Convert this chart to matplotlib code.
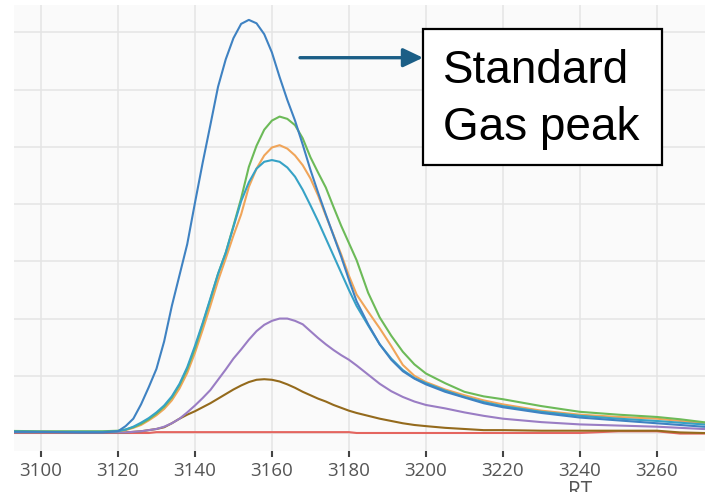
"""Chromatogram overlay: standard gas peak at RT ~3155."""

import matplotlib

matplotlib.use("Agg")
import matplotlib.pyplot as plt
from matplotlib.patches import Rectangle

# retention time grid shared by all traces
rt = [3088, 3100, 3110, 3116, 3120, 3122, 3124, 3126, 3128, 3130, 3132, 3134,
      3136, 3138, 3140, 3142, 3144, 3146, 3148, 3150, 3152, 3154, 3156, 3158,
      3160, 3162, 3164, 3166, 3168, 3170, 3172, 3174, 3176, 3178, 3180, 3182,
      3185, 3188, 3191, 3194, 3197, 3200, 3205, 3210, 3215, 3220, 3230, 3240,
      3250, 3260, 3266, 3272, 3278]

# intensities (one unit = one horizontal grid step)
red = [0.0, 0.0, 0.0, 0.0, 0.0, 0.0, 0.0, 0.0, 0.0, 0.015, 0.015, 0.015,
       0.015, 0.015, 0.015, 0.015, 0.015, 0.015, 0.015, 0.015, 0.015, 0.015, 0.015, 0.015,
       0.015, 0.015, 0.015, 0.015, 0.015, 0.015, 0.015, 0.015, 0.015, 0.015, 0.015, 0.0,
       0.0, 0.0, 0.0, 0.0, 0.0, 0.0, 0.0, 0.0, 0.0, 0.0, 0.0, 0.0,
       0.03, 0.03, -0.01, -0.01, -0.01]
brown = [0.01, 0.01, 0.01, 0.01, 0.01, 0.01, 0.02, 0.03, 0.05, 0.07, 0.10, 0.17,
         0.25, 0.32, 0.38, 0.45, 0.52, 0.60, 0.68, 0.76, 0.83, 0.89, 0.93, 0.94,
         0.93, 0.90, 0.85, 0.79, 0.72, 0.66, 0.60, 0.55, 0.49, 0.44, 0.39, 0.35,
         0.30, 0.25, 0.21, 0.17, 0.14, 0.12, 0.09, 0.07, 0.05, 0.05, 0.04, 0.04,
         0.04, 0.04, 0.01, 0.0, 0.0]
purple = [0.01, 0.01, 0.01, 0.01, 0.01, 0.01, 0.02, 0.03, 0.05, 0.07, 0.11, 0.17,
          0.25, 0.36, 0.48, 0.61, 0.75, 0.93, 1.11, 1.30, 1.46, 1.63, 1.78, 1.89,
          1.96, 2.00, 2.00, 1.96, 1.90, 1.78, 1.66, 1.55, 1.45, 1.36, 1.28, 1.18,
          1.02, 0.86, 0.73, 0.63, 0.55, 0.49, 0.43, 0.36, 0.30, 0.25, 0.19, 0.15,
          0.13, 0.11, 0.09, 0.07, 0.06]
orange = [0.02, 0.02, 0.02, 0.02, 0.03, 0.05, 0.09, 0.14, 0.22, 0.31, 0.42, 0.57,
          0.78, 1.05, 1.40, 1.80, 2.22, 2.66, 3.05, 3.45, 3.82, 4.30, 4.62, 4.85,
          4.99, 5.03, 4.97, 4.85, 4.68, 4.45, 4.15, 3.80, 3.46, 3.12, 2.75, 2.42,
          2.12, 1.83, 1.52, 1.19, 1.00, 0.89, 0.76, 0.66, 0.57, 0.50, 0.39, 0.32,
          0.28, 0.25, 0.21, 0.17, 0.14]
green = [0.04, 0.03, 0.03, 0.03, 0.04, 0.06, 0.10, 0.16, 0.24, 0.34, 0.46, 0.62,
         0.84, 1.12, 1.48, 1.90, 2.33, 2.78, 3.15, 3.62, 4.10, 4.65, 5.02, 5.30,
         5.46, 5.53, 5.49, 5.38, 5.15, 4.82, 4.55, 4.29, 3.95, 3.62, 3.32, 3.02,
         2.45, 2.02, 1.70, 1.42, 1.20, 1.04, 0.87, 0.72, 0.64, 0.59, 0.47, 0.37,
         0.32, 0.28, 0.24, 0.19, 0.15]
teal = [0.03, 0.02, 0.02, 0.02, 0.03, 0.06, 0.11, 0.18, 0.26, 0.36, 0.48, 0.64,
        0.86, 1.15, 1.52, 1.92, 2.35, 2.78, 3.15, 3.60, 4.05, 4.38, 4.62, 4.74,
        4.77, 4.74, 4.64, 4.48, 4.25, 3.98, 3.70, 3.40, 3.10, 2.80, 2.50, 2.22,
        1.88, 1.55, 1.30, 1.10, 0.96, 0.87, 0.74, 0.63, 0.54, 0.47, 0.37, 0.30,
        0.25, 0.21, 0.18, 0.15, 0.12]
blue = [0.02, 0.02, 0.01, 0.01, 0.03, 0.12, 0.25, 0.50, 0.80, 1.12, 1.60, 2.22,
        2.76, 3.30, 4.02, 4.72, 5.38, 6.05, 6.53, 6.90, 7.15, 7.22, 7.16, 6.97,
        6.65, 6.22, 5.82, 5.46, 5.04, 4.60, 4.20, 3.82, 3.45, 3.08, 2.68, 2.30,
        1.90, 1.55, 1.28, 1.08, 0.95, 0.85, 0.72, 0.62, 0.52, 0.45, 0.35, 0.27,
        0.22, 0.17, 0.14, 0.11, 0.09]

traces = [
    (red, "#e4655f"),
    (brown, "#946a1c"),
    (purple, "#9a7dc4"),
    (orange, "#f0a55a"),
    (green, "#6cba58"),
    (teal, "#36a2c6"),
    (blue, "#3f82c2"),
]

xticks = [3100, 3120, 3140, 3160, 3180, 3200, 3220, 3240, 3260]

W, H = 705, 492
fig = plt.figure(figsize=(W / 100, H / 100), dpi=100)
ax = fig.add_axes([14 / W, 1 - 450.5 / H, 1 - 14 / W, 445.5 / H])
ax.set_facecolor("#fafafa")

for ys, col in traces:
    ax.plot(rt, ys, color=col, lw=1.5, solid_joinstyle="round")

ax.set_xlim(3093.0, 3272.5)
ax.set_ylim(-0.306, 7.48)
ax.set_xticks(xticks)
ax.set_yticks(range(0, 8))
ax.grid(True, color="#e4e4e4", lw=1.1)
ax.set_axisbelow(True)
for s in ax.spines.values():
    s.set_visible(False)
ax.tick_params(axis="x", direction="out", length=4, width=1.5, color="#444444",
               pad=4.5, labelsize=13.5, labelcolor="#555555")
ax.tick_params(axis="y", left=False, labelleft=False)
for lbl in ax.get_xticklabels():
    lbl.set_fontfamily("Open Sans")

ax.set_xlabel("RT", fontsize=15, color="#555555", family="Open Sans")
ax.xaxis.set_label_coords(0.819, -0.068)

# annotation box and arrow
fig.patches.append(Rectangle((423.3 / W, 1 - 165 / H), 238.4 / W, 135.7 / H,
                             transform=fig.transFigure, facecolor="white",
                             edgecolor="black", lw=1.6, zorder=5))
fig.text(443 / W, 1 - 82.7 / H, "Standard", fontsize=33, family="Liberation Sans",
         va="baseline", ha="left", zorder=6)
fig.text(443 / W, 1 - 140 / H, "Gas peak", fontsize=33, family="Liberation Sans",
         va="baseline", ha="left", zorder=6)
ax.annotate("", xy=(423, H - 57.7), xytext=(300, H - 57.7),
            xycoords="figure pixels", textcoords="figure pixels",
            arrowprops=dict(arrowstyle="-|>,head_length=0.8,head_width=0.38",
                            mutation_scale=15, color="#1b5e86", lw=2.4,
                            shrinkA=0, shrinkB=0))

fig.savefig("out.png", dpi=100)
